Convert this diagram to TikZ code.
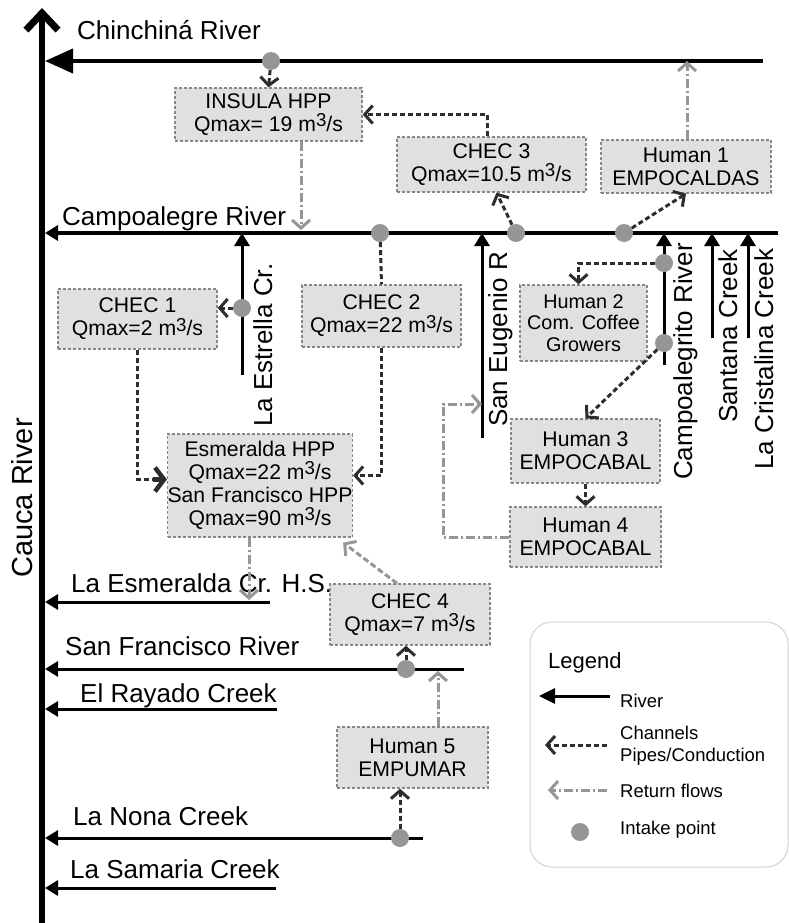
\documentclass[tikz,border=0pt]{standalone}
\usepackage{fontspec}
\setmainfont{Liberation Sans}
\usetikzlibrary{arrows.meta}
\definecolor{boxfill}{RGB}{224,224,224}
\definecolor{boxline}{RGB}{135,135,135}
\definecolor{pipecol}{RGB}{45,45,45}
\definecolor{retcol}{RGB}{150,150,150}
\definecolor{dotcol}{RGB}{150,150,150}
\newcommand{\cms}{m\raisebox{0.42ex}{\scalebox{0.88}{3}}/s}
\begin{document}
\begin{tikzpicture}[x=1pt,y=-1pt,
  river/.style={line width=3pt,-{Triangle[length=13pt,width=15pt]}},
  cauca/.style={line width=6.5pt,-{Straight Barb[length=17pt,width=32pt,line width=7pt]}},
  rlabel/.style={inner sep=0pt,font=\fontsize{26}{28}\selectfont},
  box/.style={draw=boxline,fill=boxfill,line width=1.3pt,dash pattern=on 3pt off 2pt,
    align=center,inner sep=0pt,font=\fontsize{21.2}{23}\selectfont},
  intake/.style={circle,fill=dotcol,minimum size=18pt,inner sep=0pt},
  pipe/.style={draw=pipecol,line width=3pt,dash pattern=on 5pt off 3pt,
    -{Straight Barb[length=8pt,width=18pt]}},
  ret/.style={draw=retcol,line width=3pt,dash pattern=on 9pt off 3pt on 2pt off 3pt,
    -{Straight Barb[length=8pt,width=18pt]}},
  legtext/.style={inner sep=0pt,anchor=west,align=left,font=\fontsize{18.5}{22}\selectfont}]
\useasboundingbox (0,0) rectangle (789,923);

\coordinate (cauS) at (42,923);
\coordinate (cauN) at (42,8);
\coordinate (chinE) at (763,61);
\coordinate (chinW) at (45,61);
\coordinate (campE) at (778,233);
\coordinate (campW) at (45,233);
\coordinate (estS) at (242,375);
\coordinate (estN) at (242,233);
\coordinate (eugS) at (482,438);
\coordinate (eugN) at (482,233);
\coordinate (citoS) at (664,365);
\coordinate (citoN) at (664,233);
\coordinate (santS) at (712,338);
\coordinate (santN) at (712,233);
\coordinate (crisS) at (748,338);
\coordinate (crisN) at (748,233);
\coordinate (esmE) at (270,602);
\coordinate (esmW) at (45,602);
\coordinate (sfrE) at (464,669);
\coordinate (sfrW) at (45,669);
\coordinate (rayE) at (277,709);
\coordinate (rayW) at (45,709);
\coordinate (nonaE) at (423,838);
\coordinate (nonaW) at (45,838);
\coordinate (samE) at (276,888);
\coordinate (samW) at (45,888);

\draw[cauca] (cauS) -- (cauN);
\draw[line width=4pt,-{Triangle[length=28pt,width=24pt]}] (chinE) -- (chinW);
\draw[river,line width=3.3pt] (campE) -- (campW);
\draw[river] (estS) -- (estN);
\draw[river] (eugS) -- (eugN);
\draw[river] (citoS) -- (citoN);
\draw[river] (santS) -- (santN);
\draw[river] (crisS) -- (crisN);
\draw[river] (esmE) -- (esmW);
\draw[river] (sfrE) -- (sfrW);
\draw[river] (rayE) -- (rayW);
\draw[river] (nonaE) -- (nonaW);
\draw[river] (samE) -- (samW);

\node[rlabel,rotate=90,anchor=base west,font=\fontsize{29}{32}\selectfont] (cauL) at (32,578) {Cauca River};
\node[rlabel,anchor=base west] (chinL) at (77,40) {Chinchiná River};
\node[rlabel,anchor=base west] (campL) at (62,225) {Campoalegre River};
\node[rlabel,anchor=base west] (esmL) at (71,592) {La Esmeralda Cr. H.S.};
\node[rlabel,anchor=base west] (sfrL) at (65,655) {San Francisco River};
\node[rlabel,anchor=base west] (rayL) at (80,702) {El Rayado Creek};
\node[rlabel,anchor=base west] (nonaL) at (73,825) {La Nona Creek};
\node[rlabel,anchor=base west] (samL) at (70,878) {La Samaria Creek};
\node[rlabel,rotate=90,anchor=base west] (estL) at (272,427) {La Estrella Cr.};
\node[rlabel,rotate=90,anchor=base west] (eugL) at (507,427) {San Eugenio R};
\node[rlabel,rotate=90,anchor=base west] (citoL) at (692,480) {Campoalegrito River};
\node[rlabel,rotate=90,anchor=base west] (santL) at (737,423) {Santana Creek};
\node[rlabel,rotate=90,anchor=base west] (crisL) at (773,470) {La Cristalina Creek};

\node[box,minimum width=187,minimum height=53] (insula) at (268.5,114.5) {INSULA HPP\\Qmax= 19 \cms};
\node[box,minimum width=189,minimum height=55] (chec3) at (491.5,164.5) {CHEC 3\\Qmax=10.5 \cms};
\node[box,minimum width=170,minimum height=53] (hum1) at (686,166.5) {Human 1\\EMPOCALDAS};
\node[box,minimum width=159,minimum height=60] (chec1) at (137.5,319) {CHEC 1\\Qmax=2 \cms};
\node[box,minimum width=159,minimum height=62] (chec2) at (381.5,316) {CHEC 2\\Qmax=22 \cms};
\node[box,minimum width=127,minimum height=76,font=\fontsize{19.8}{21.5}\selectfont] (hum2) at (583.5,323) {Human 2\\Com. Coffee\\Growers};
\node[box,minimum width=149,minimum height=64] (hum3) at (585.5,451) {Human 3\\EMPOCABAL};
\node[box,minimum width=151,minimum height=60] (hum4) at (585.5,537) {Human 4\\EMPOCABAL};
\node[box,minimum width=182,minimum height=103] (esm) at (260,485.5) {Esmeralda HPP\\Qmax=22 \cms\\San Francisco HPP\\Qmax=90 \cms};
\node[box,minimum width=160,minimum height=61] (chec4) at (410,614.5) {CHEC 4\\Qmax=7 \cms};
\node[box,minimum width=151,minimum height=61] (hum5) at (412.5,757.5) {Human 5\\EMPUMAR};

\node[intake] (i1) at (271,61) {};
\node[intake] (i2) at (380,233) {};
\node[intake] (i3) at (516,233) {};
\node[intake] (i4) at (624,233) {};
\node[intake] (i5) at (242,308) {};
\node[intake] (i6) at (664,263) {};
\node[intake] (i7) at (664,343) {};
\node[intake] (i8) at (406,669) {};
\node[intake] (i9) at (400,838) {};

\coordinate (chinR) at (687,61);
\coordinate (campR) at (301,230);
\coordinate (eugR) at (482,404);
\coordinate (esmR) at (249,600);
\coordinate (sfrR) at (438,671);

\path (i1) edge[pipe] (insula.north);
\path (i3) edge[pipe] ([xshift=5pt]chec3.south);
\path (i4) edge[pipe] (hum1.south);
\path (i5) edge[pipe] (i5 -| chec1.east);
\path (i7) edge[pipe] (hum3.north);
\path (hum3.south) edge[pipe] (hum4.north);
\path (i8) edge[pipe] (i8 |- chec4.south);
\path (i9) edge[pipe] (i9 |- hum5.south);
\path (i2) edge[pipe,-] (chec2.north);
\draw[pipe] ([xshift=-4pt]chec3.north) |- (insula.east);
\draw[pipe] (i6) -| ([xshift=-5pt]hum2.north);
\draw[pipe] (chec1.south) |- ([yshift=6pt]esm.west);
\draw[pipe] (chec2.south) |- ([yshift=10pt]esm.east);
\draw[pipecol,line width=4.5pt,-{Straight Barb[length=9pt,width=24pt]}] ([xshift=-14pt,yshift=6pt]esm.west) -- ([yshift=6pt]esm.west);

\path (insula.south -| campR) edge[ret] (campR);
\path (hum1.north -| chinR) edge[ret] (chinR);
\path (esm.south -| esmR) edge[ret] (esmR);
\path (hum5.north -| sfrR) edge[ret] (sfrR);
\draw[ret] (hum4.west) -| ([xshift=-39pt]eugR) -- (eugR);
\draw[ret,dash pattern=on 6pt off 3pt] ([xshift=-13pt]chec4.north) -- ([xshift=-10pt,yshift=-5pt]esm.south east);

\node[draw=black!18,line width=1pt,rounded corners=22pt,minimum width=258,minimum height=245] (legend) at (659,744.5) {};
\node[inner sep=0pt,anchor=base west,font=\fontsize{22}{26}\selectfont] (legT) at (548,668) {Legend};
\coordinate (lg1a) at (610,696);
\coordinate (lg1b) at (539,696);
\coordinate (lg2a) at (607,745);
\coordinate (lg2b) at (545,745);
\coordinate (lg3a) at (607,790);
\coordinate (lg3b) at (548,790);
\draw[line width=3pt,-{Triangle[length=16pt,width=15pt]}] (lg1a) -- (lg1b);
\draw[pipe] (lg2a) -- (lg2b);
\draw[ret] (lg3a) -- (lg3b);
\node[intake] (lg4) at (580,832) {};
\node[legtext] (lgR) at (620,701) {River};
\node[legtext] (lgC) at (620,746) {Channels\\Pipes/Conduction};
\node[legtext] (lgF) at (620,791) {Return flows};
\node[legtext] (lgI) at (620,830) {Intake point};
\end{tikzpicture}
\end{document}
